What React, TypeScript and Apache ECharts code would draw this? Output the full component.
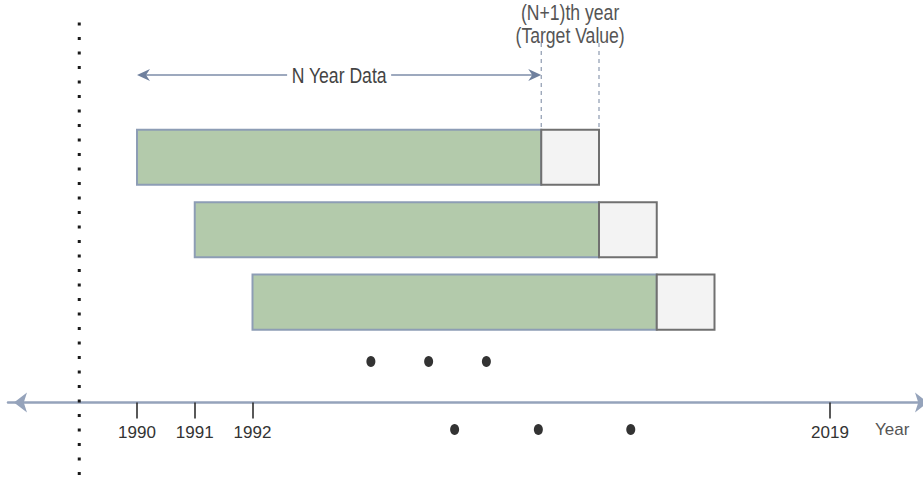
import React, { useEffect, useRef } from "react";
import * as echarts from "echarts";

// x unit = one year step (0 = 1990). y unit = one window row (0 = first window).
const windowStarts = [0, 1, 2];          // 1990, 1991, 1992
const windowDataEnds = [7, 8, 9];        // N years of data
const windowTargetEnds = [8, 9, 10];     // (N+1)th year target
const windowRows = [0, 1, 2];

const tickPositions = [0, 1, 2, 12];
const tickLabels = ["1990", "1991", "1992", "2019"];

const upperDotsX = [4.05, 5.05, 6.05];
const upperDotsRow = 2.82;
const lowerDotsX = [5.5, 6.95, 8.55];
const lowerDotsRow = 3.76;

const nYearArrowRow = -1.138;
const dottedLineX = -1;

const FONT = '"Liberation Sans Narrow", "Arial Narrow", "Liberation Sans", Arial, sans-serif';

export default function App() {
  const ref = useRef<HTMLDivElement>(null);
  useEffect(() => {
    if (!ref.current) return;
    const chart = echarts.init(ref.current, null, { renderer: "svg" });

    const barData: any[] = [];
    windowStarts.forEach((s, i) => {
      barData.push([s, windowDataEnds[i], windowRows[i], 0]);
      barData.push([windowDataEnds[i], windowTargetEnds[i], windowRows[i], 1]);
    });

    const mkText = (text: string, p: number[], fill: string, sx: number, sy: number, extra: any = {}) => ({
      type: "text",
      x: p[0],
      y: p[1],
      scaleX: sx,
      scaleY: sy,
      z2: 5,
      style: {
        text,
        x: 0,
        y: 0,
        align: "center",
        verticalAlign: "middle",
        fontSize: 20,
        fontFamily: FONT,
        fill,
        ...extra,
      },
    });

    const option: any = {
      animation: false,
      grid: { left: 8, right: 1, top: 0, bottom: 74.5 },
      xAxis: {
        type: "value",
        min: -129 / 57.75,
        max: 785 / 57.75,
        splitLine: { show: false },
        axisLine: {
          show: true,
          onZero: false,
          symbol: ["arrow", "arrow"],
          symbolSize: [15, 13],
          symbolOffset: [6, 6],
          lineStyle: { color: "#95a3bb", width: 2.5 },
        },
        axisTick: {
          show: true,
          customValues: tickPositions,
          length: 16,
          lineStyle: { color: "#222", width: 1.5 },
        },
        axisLabel: {
          show: true,
          customValues: tickPositions,
          margin: 21,
          color: "#333",
          fontSize: 17,
          fontFamily: FONT,
          formatter: (v: number) => {
            const idx = tickPositions.indexOf(v);
            return idx >= 0 ? tickLabels[idx] : "";
          },
        },
        name: "Year",
        nameLocation: "end",
        nameGap: -47,
        nameTextStyle: {
          color: "#555",
          fontSize: 17,
          fontFamily: FONT,
          verticalAlign: "top",
          padding: [18, 0, 0, 0],
        },
      },
      yAxis: {
        type: "value",
        inverse: true,
        min: -157.5 / 72.5,
        max: (403 - 157.5) / 72.5,
        show: false,
        splitLine: { show: false },
      },
      series: [
        {
          type: "custom",
          clip: false,
          data: barData,
          renderItem: (params: any, api: any) => {
            const s = api.coord([api.value(0), api.value(2)]);
            const e = api.coord([api.value(1), api.value(2)]);
            const h = api.size([0, 1])[1] * 0.76;
            const kind = api.value(3);
            return {
              type: "rect",
              z2: kind === 1 ? 2 : 1,
              shape: { x: s[0], y: s[1] - h / 2, width: e[0] - s[0], height: h },
              style: kind === 0
                ? { fill: "#b3caab", stroke: "#8d9db5", lineWidth: 2 }
                : { fill: "#f3f3f3", stroke: "#707070", lineWidth: 2 },
            };
          },
        },
        {
          type: "scatter",
          clip: false,
          symbol: "circle",
          symbolSize: [9, 11],
          itemStyle: { color: "#000" },
          data: [
            ...upperDotsX.map((x) => [x, upperDotsRow]),
            ...lowerDotsX.map((x) => [x, lowerDotsRow]),
          ],
        },
        {
          type: "custom",
          clip: false,
          data: [[0, 0]],
          renderItem: (params: any, api: any) => {
            const a0 = api.coord([windowStarts[0], nYearArrowRow]);
            const a1 = api.coord([windowDataEnds[0], nYearArrowRow]);
            const y = a0[1];
            const arrowColor = "#6f809e";
            const dTop = api.coord([windowDataEnds[0], -1.58]);
            const dBot = api.coord([windowDataEnds[0], -0.379]);
            const dTop2 = api.coord([windowTargetEnds[0], -1.58]);
            const txt1 = api.coord([(windowDataEnds[0] + windowTargetEnds[0]) / 2, -2.0]);
            const txt2 = api.coord([(windowDataEnds[0] + windowTargetEnds[0]) / 2, -1.69]);
            const vTop = api.coord([dottedLineX, -1.862]);
            const vBot = api.coord([dottedLineX, 4.39]);
            const mid = (a0[0] + a1[0]) / 2;
            return {
              type: "group",
              children: [
                {
                  type: "line",
                  shape: { x1: vTop[0], y1: vTop[1], x2: vBot[0], y2: vBot[1] },
                  style: { stroke: "#1a1a1a", lineWidth: 3, lineDash: [3, 11.5] },
                },
                {
                  type: "line",
                  shape: { x1: a0[0] + 4, y1: y, x2: a1[0] - 4, y2: y },
                  style: { stroke: "#7d8ca8", lineWidth: 1.5 },
                },
                {
                  type: "polygon",
                  shape: { points: [[a0[0], y], [a0[0] + 13, y - 6], [a0[0] + 9, y], [a0[0] + 13, y + 6]] },
                  style: { fill: arrowColor },
                },
                {
                  type: "polygon",
                  shape: { points: [[a1[0], y], [a1[0] - 13, y - 6], [a1[0] - 9, y], [a1[0] - 13, y + 6]] },
                  style: { fill: arrowColor },
                },
                mkText("N Year Data", [mid, y], "#444", 0.88, 1.08, { backgroundColor: "#fff", padding: [0, 5] }),
                {
                  type: "line",
                  shape: { x1: dTop[0], y1: dTop[1], x2: dBot[0], y2: dBot[1] },
                  style: { stroke: "#8d9ab0", lineWidth: 1.2, lineDash: [4, 4] },
                },
                {
                  type: "line",
                  shape: { x1: dTop2[0], y1: dTop2[1], x2: dTop2[0], y2: dBot[1] },
                  style: { stroke: "#8d9ab0", lineWidth: 1.2, lineDash: [4, 4] },
                },
                mkText("(N+1)th year", txt1, "#555", 0.88, 1.08),
                mkText("(Target Value)", txt2, "#555", 0.88, 1.08),
              ],
            };
          },
        },
      ],
    };
    chart.setOption(option);
    return () => chart.dispose();
  }, []);
  return (
    <div
      ref={ref}
      style={{ position: "fixed", left: 0, top: 0, width: 923, height: 477, background: "#fff" }}
    />
  );
}
